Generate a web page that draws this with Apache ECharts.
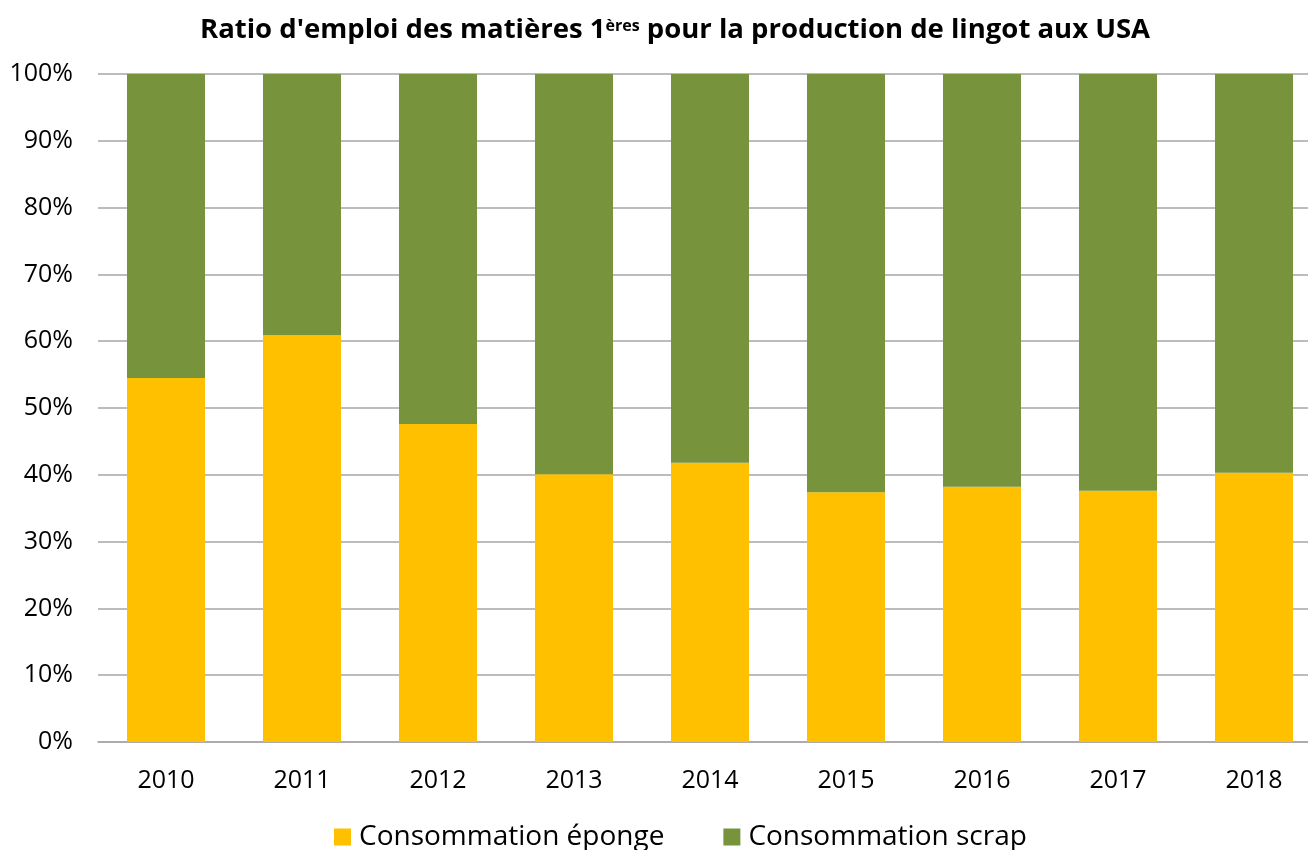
<!DOCTYPE html>
<html>
<head>
<meta charset="utf-8">
<script src="https://cdn.jsdelivr.net/npm/echarts@6/dist/echarts.min.js"></script>
<style>html,body{margin:0;padding:0;background:#fff}#c{width:1308px;height:850px}</style>
</head>
<body>
<div id="c"></div>
<script>
const categories = ['2010','2011','2012','2013','2014','2015','2016','2017','2018'];
const eponge = [54.5, 60.9, 47.6, 40.1, 41.8, 37.4, 38.2, 37.6, 40.3];
const scrap = [45.5, 39.1, 52.4, 59.9, 58.2, 62.6, 61.8, 62.4, 59.7];
const seriesNames = ['Consommation éponge', 'Consommation scrap'];
const yTicks = [0,10,20,30,40,50,60,70,80,90,100];

const FONT = '"Open Sans", sans-serif';
const chart = echarts.init(document.getElementById('c'), null, {renderer:'canvas'});
chart.setOption({
  animation: false,
  backgroundColor: '#fff',
  title: {
    text: "{a|Ratio d'emploi des matières 1}{s|ères}{a| pour la production de lingot aux USA}",
    left: 200, top: 8, padding: 0,
    textStyle: {
      rich: {
        a: {fontFamily: FONT, fontWeight: 'bold', fontSize: 27.5, color: '#000', lineHeight: 36, verticalAlign: 'bottom'},
        s: {fontFamily: FONT, fontWeight: 'bold', fontSize: 16, color: '#000', lineHeight: 16, verticalAlign: 'bottom', padding: [0,0,10,0]}
      }
    }
  },
  legend: {
    top: 818, left: 329,
    itemWidth: 17, itemHeight: 17, itemGap: 59,
    icon: 'rect',
    textStyle: {fontFamily: FONT, fontSize: 28, color: '#000', padding: [0,0,0,3]},
    data: seriesNames
  },
  grid: {left: 98, top: 74, width: 1224, height: 668, containLabel: false, outerBoundsMode: 'none'},
  xAxis: {
    type: 'category', data: categories,
    axisLine: {lineStyle: {color: '#a6a6a6', width: 1.5}},
    axisTick: {show: false},
    axisLabel: {fontFamily: FONT, fontSize: 25, color: '#000', margin: 26}
  },
  yAxis: {
    type: 'value', min: 0, max: 100, interval: 10,
    axisLine: {show: false}, axisTick: {show: false},
    splitLine: {lineStyle: {color: '#a6a6a6', width: 1.5}},
    axisLabel: {fontFamily: FONT, fontSize: 25, color: '#000', margin: 25,
      formatter: v => yTicks.includes(v) ? v + '%' : ''}
  },
  series: [
    {name: seriesNames[0], type: 'bar', stack: 't', data: eponge, barWidth: 78, itemStyle: {color: '#FFC000'}},
    {name: seriesNames[1], type: 'bar', stack: 't', data: scrap, barWidth: 78, itemStyle: {color: '#77933C'}}
  ]
});
</script>
</body>
</html>
